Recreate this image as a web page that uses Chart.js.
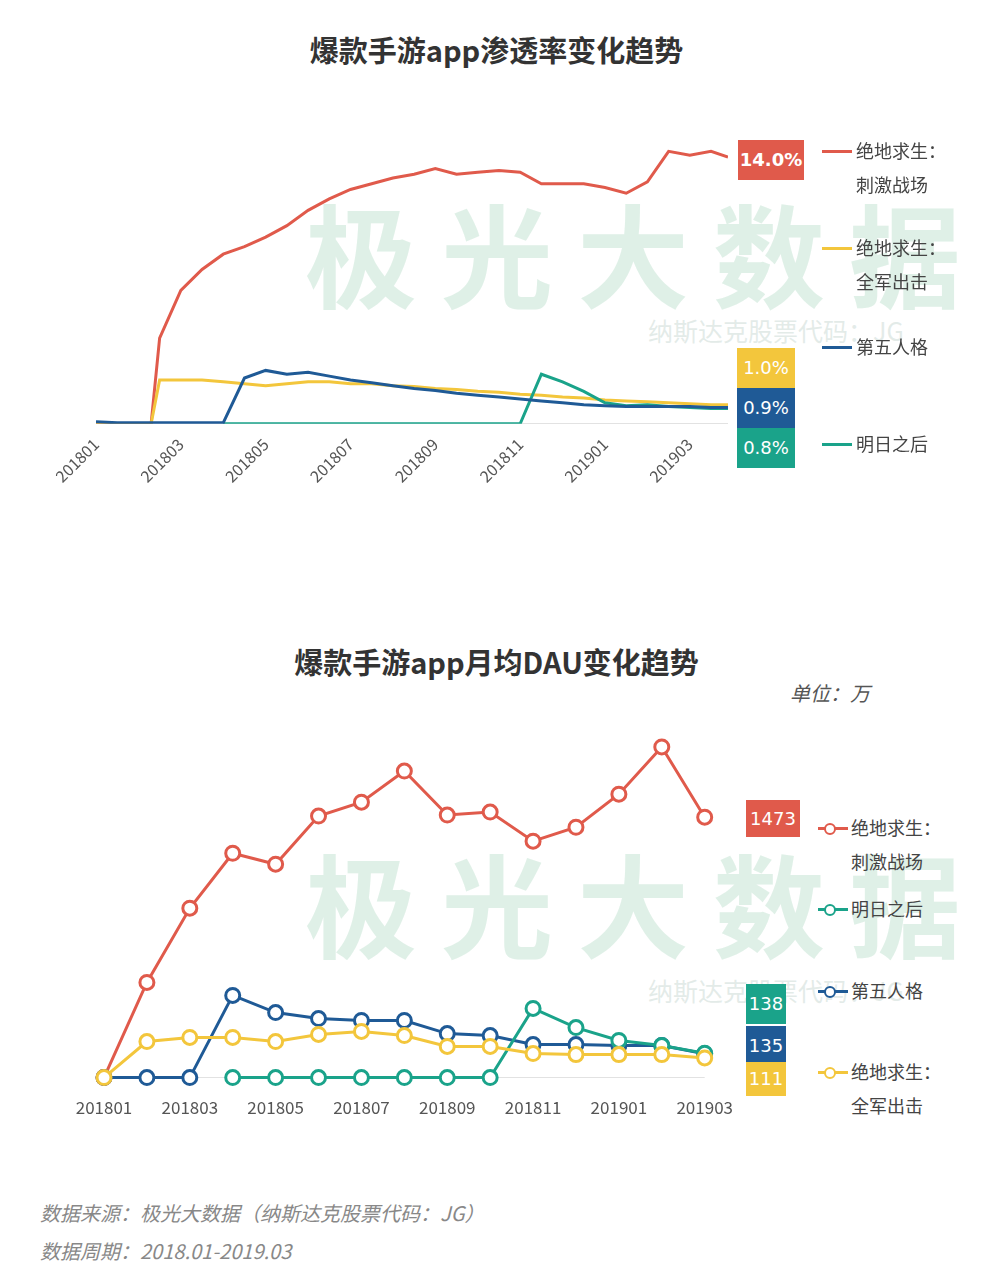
<!DOCTYPE html>
<html><head><meta charset="utf-8">
<script src="https://cdn.jsdelivr.net/npm/chart.js@4"></script>
<style>
body{margin:0;width:993px;height:1279px;background:#fff;position:relative;font-family:"Noto Sans CJK SC",sans-serif;overflow:hidden}
.a{position:absolute;white-space:nowrap}
.t{font-weight:bold;font-size:29px;color:#333;width:993px;text-align:center}
.wm{color:rgba(196,228,212,0.55);font-size:112px;font-weight:bold;letter-spacing:24px}
.wm2{color:rgba(200,215,210,0.5);font-size:25px}
.lg{font-size:18px;color:#444;line-height:34px}
.ln{position:absolute;width:30px;height:3px}
.box{position:absolute;color:#fff;font-size:18px;text-align:center;font-family:"DejaVu Sans",sans-serif}
.dot{position:absolute;width:8px;height:8px;border-radius:50%;background:#fff;border:2.5px solid}
.ft{font-style:italic;color:#888;font-size:20px}
</style></head><body>
<div class="a wm" style="left:305px;top:170px">极光大数据</div>
<div class="a wm2" style="left:648px;top:312px">纳斯达克股票代码：JG</div>
<div class="a wm" style="left:305px;top:820px">极光大数据</div>
<div class="a wm2" style="left:648px;top:972px">纳斯达克股票代码：JG</div>
<div class="a t" style="top:28px">爆款手游app渗透率变化趋势</div>
<div class="a t" style="top:640px">爆款手游app月均DAU变化趋势</div>
<div class="a" style="left:790px;top:678px;font-size:20px;font-style:italic;color:#555">单位：万</div>
<div style="position:absolute;left:0;top:120px;width:740px;height:369px"><canvas id="c1"></canvas></div>
<div style="position:absolute;left:0;top:710px;width:745px;height:420px"><canvas id="c2"></canvas></div>
<div id="ov"></div>
<div class="a ft" style="left:40px;top:1198px">数据来源：极光大数据（纳斯达克股票代码：JG）</div>
<div class="a ft" style="left:40px;top:1236px">数据周期：2018.01-2019.03</div>
<script>
const tickLabels1=['201801','201803','201805','201807','201809','201811','201901','201903'];
const xMonths=[0,0.5,1,1.3,1.5,2,2.5,3,3.5,4,4.5,5,5.5,6,6.5,7,7.5,8,8.5,9,9.5,10,10.5,11,11.5,12,12.5,13,13.5,14,14.5,14.9];
const pubgPen=[0,0,0,0,4.5,7,8.1,8.9,9.3,9.8,10.4,11.2,11.8,12.3,12.6,12.9,13.1,13.4,13.1,13.2,13.3,13.2,12.6,12.6,12.6,12.4,12.1,12.7,14.3,14.1,14.3,14.0];
const qjcjPen=[0,0,0,0,2.3,2.3,2.3,2.2,2.1,2.0,2.1,2.2,2.2,2.1,2.1,2.0,1.95,1.85,1.8,1.7,1.65,1.55,1.5,1.4,1.35,1.25,1.2,1.15,1.1,1.05,1.0,1.0];
const idvPen=[0.1,0.05,0.05,0.05,0.05,0.05,0.05,0.05,2.4,2.8,2.6,2.7,2.5,2.3,2.15,2.0,1.85,1.75,1.6,1.5,1.4,1.3,1.2,1.1,1.0,0.95,0.9,0.9,0.9,0.9,0.85,0.85];
const lohPen=[null,null,null,null,null,null,null,0,0,0,0,0,0,0,0,0,0,0,0,0,0,0,2.6,2.2,1.7,1.1,0.95,1.0,0.9,0.85,0.8,0.8];
const months2=['201801','201802','201803','201804','201805','201806','201807','201808','201809','201810','201811','201812','201901','201902','201903'];
const pubgDau=[0,538,958,1269,1207,1479,1558,1734,1485,1502,1337,1416,1603,1870,1473];
const idvDau=[0,0,0,465,368,334,323,323,249,238,187,187,181,181,135];
const lohDau=[null,null,null,0,0,0,0,0,0,0,391,283,210,181,138];
const qjcjDau=[0,204,227,227,204,244,261,238,176,176,136,130,130,130,111];
const RED='#e05a4b',YEL='#f3c63c',BLUE='#1f5a96',TEAL='#1aa38a';
const pts=a=>a.map((v,i)=>({x:xMonths[i],y:v}));
const yBase={min:0,display:true,border:{display:false},ticks:{display:false},grid:{drawTicks:false,color:c=>c.tick&&c.tick.value===0?'#e2e2e2':'transparent'}};
function ds(l,d,c){return{label:l,data:d,borderColor:c,borderWidth:3,pointRadius:0,tension:0,spanGaps:false}}
new Chart(document.getElementById('c1'),{type:'line',
data:{datasets:[ds('第五人格',pts(idvPen),BLUE),ds('明日之后',pts(lohPen),TEAL),ds('绝地求生：全军出击',pts(qjcjPen),YEL),ds('绝地求生：刺激战场',pts(pubgPen),RED)]},
options:{animation:false,responsive:true,maintainAspectRatio:false,layout:{padding:{left:96,right:12,top:18,bottom:0}},
plugins:{legend:{display:false},tooltip:{enabled:false}},
scales:{x:{type:'linear',min:0,max:14.9,border:{display:false},grid:{display:false},
ticks:{stepSize:2,autoSkip:false,maxRotation:45,minRotation:45,color:'#555',font:{size:16,family:'Noto Sans CJK SC'},callback:v=>tickLabels1[v/2]}},
y:{...yBase,max:15}}}});
function ds2(l,d,c){return{label:l,data:d,borderColor:c,borderWidth:3,pointRadius:7,pointBorderWidth:3,pointBackgroundColor:'#fff',pointBorderColor:c,tension:0,clip:false}}
new Chart(document.getElementById('c2'),{type:'line',
data:{labels:months2,datasets:[ds2('绝地求生：全军出击',qjcjDau,YEL),ds2('明日之后',lohDau,TEAL),ds2('第五人格',idvDau,BLUE),ds2('绝地求生：刺激战场',pubgDau,RED)]},
options:{animation:false,responsive:true,maintainAspectRatio:false,layout:{padding:{left:104,right:13,top:14,bottom:0}},
plugins:{legend:{display:false},tooltip:{enabled:false}},
scales:{x:{offset:false,border:{display:false},grid:{display:false},
ticks:{autoSkip:false,maxRotation:0,padding:12,color:'#555',font:{size:17,family:'Noto Sans CJK SC'},callback:(v,i)=>i%2===0?months2[i]:''}},
y:{...yBase,max:2000}}}});
const ov=document.getElementById('ov');
function add(h){ov.insertAdjacentHTML('beforeend',h)}
add(`<div class="box" style="left:738px;top:140px;width:66px;height:40px;line-height:40px;background:${RED};font-weight:bold">14.0%</div>`);
add(`<div class="box" style="left:737px;top:348px;width:58px;height:40px;line-height:40px;background:${YEL}">1.0%</div>`);
add(`<div class="box" style="left:737px;top:388px;width:58px;height:40px;line-height:40px;background:${BLUE}">0.9%</div>`);
add(`<div class="box" style="left:737px;top:428px;width:58px;height:40px;line-height:40px;background:${TEAL}">0.8%</div>`);
[[150,RED,'绝地求生：<br>刺激战场'],[247,YEL,'绝地求生：<br>全军出击'],[346,BLUE,'第五人格'],[443,TEAL,'明日之后']].forEach(([y,c,t])=>{
add(`<div class="ln" style="left:822px;top:${y}px;background:${c}"></div><div class="a lg" style="left:856px;top:${y-17}px">${t}</div>`)});
add(`<div class="box" style="left:746px;top:800px;width:54px;height:37px;line-height:37px;background:${RED}">1473</div>`);
add(`<div class="box" style="left:746px;top:984px;width:40px;height:40px;line-height:40px;background:${TEAL}">138</div>`);
add(`<div class="box" style="left:746px;top:1026px;width:40px;height:40px;line-height:40px;background:${BLUE}">135</div>`);
add(`<div class="box" style="left:746px;top:1062px;width:40px;height:34px;line-height:34px;background:${YEL}">111</div>`);
[[827,RED,'绝地求生：<br>刺激战场'],[908,TEAL,'明日之后'],[990,BLUE,'第五人格'],[1071,YEL,'绝地求生：<br>全军出击']].forEach(([y,c,t])=>{
add(`<div class="ln" style="left:818px;top:${y}px;background:${c}"></div><div class="dot" style="left:824px;top:${y-4.5}px;border-color:${c}"></div><div class="a lg" style="left:851px;top:${y-17}px">${t}</div>`)});
</script></body></html>
